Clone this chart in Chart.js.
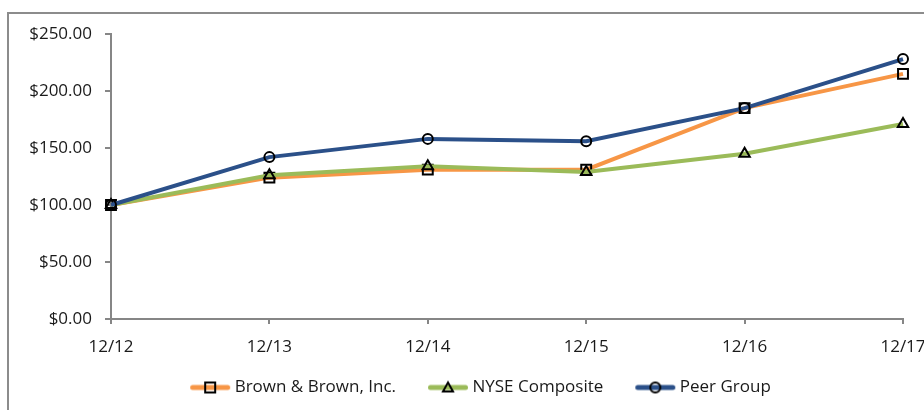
<!DOCTYPE html>
<html>
<head>
<meta charset="utf-8">
<script src="https://cdn.jsdelivr.net/npm/chart.js@4.4.1/dist/chart.umd.min.js"></script>
<style>
  body { margin: 0; background: #fff; }
  #wrap { position: relative; width: 924px; height: 410px; overflow: hidden; }
  #frame { position: absolute; left: 7px; top: 12px; width: 1000px; height: 1000px;
           border: 2px solid #8c8c8c; box-sizing: border-box; }
  #chartBox { position: absolute; left: 0; top: 0; width: 924px; height: 410px; }
</style>
</head>
<body>
<div id="wrap">
  <div id="frame"></div>
  <div id="chartBox"><canvas id="lineChart"></canvas></div>
</div>
<script>
const years = ["12/12", "12/13", "12/14", "12/15", "12/16", "12/17"];
const brownValues = [100, 124, 131, 131, 185, 215];
const nyseValues = [100, 126, 134, 129, 145, 171];
const peerValues = [100, 142, 158, 156, 185, 228];
const seriesNames = ["Brown & Brown, Inc.", "NYSE Composite", "Peer Group"];

const orange = "#f79646";
const green = "#9bbb59";
const blue = "#2b5089";
const axisGray = "#868686";

// line + marker picture for the legend (a bit of empty room on the left
// so the gap between legend items comes out right)
function legendIcon(color, shape) {
  const c = document.createElement("canvas");
  c.width = 58;
  c.height = 16;
  const g = c.getContext("2d");
  g.strokeStyle = color;
  g.lineWidth = 5;
  g.lineCap = "round";
  g.beginPath();
  g.moveTo(19.5, 8);
  g.lineTo(54.5, 8);
  g.stroke();
  g.strokeStyle = "#000";
  g.lineWidth = 2;
  g.beginPath();
  if (shape === "rect") {
    g.rect(32, 3, 10, 10);
  } else if (shape === "triangle") {
    g.moveTo(37, 3);
    g.lineTo(42, 12);
    g.lineTo(32, 12);
    g.closePath();
  } else {
    g.arc(37, 8, 5, 0, Math.PI * 2);
  }
  g.stroke();
  return c;
}

const icons = [
  legendIcon(orange, "rect"),
  legendIcon(green, "triangle"),
  legendIcon(blue, "circle")
];

function drawLineChart() {
  const ctx = document.getElementById("lineChart").getContext("2d");

  const config = {
    type: "line",
    data: {
      labels: years,
      datasets: [
        {
          label: seriesNames[0],
          data: brownValues,
          borderColor: orange,
          borderWidth: 4,
          pointStyle: "rect",
          pointRadius: 7,
          pointBorderWidth: 2,
          pointBorderColor: "#000",
          pointBackgroundColor: "transparent",
          order: 2
        },
        {
          label: seriesNames[1],
          data: nyseValues,
          borderColor: green,
          borderWidth: 4,
          pointStyle: "triangle",
          pointRadius: 6,
          pointBorderWidth: 2,
          pointBorderColor: "#000",
          pointBackgroundColor: "transparent",
          order: 1
        },
        {
          label: seriesNames[2],
          data: peerValues,
          borderColor: blue,
          borderWidth: 4,
          pointStyle: "circle",
          pointRadius: 5,
          pointBorderWidth: 2,
          pointBorderColor: "#000",
          pointBackgroundColor: "transparent",
          order: 0
        }
      ]
    },
    options: {
      responsive: true,
      maintainAspectRatio: false,
      animation: false,
      layout: {
        padding: { left: 28, right: 3, top: 34, bottom: 4 }
      },
      scales: {
        x: {
          offset: false,
          grid: {
            drawOnChartArea: false,
            color: axisGray,
            tickLength: 5,
            lineWidth: 2
          },
          border: { color: axisGray, width: 2 },
          ticks: {
            color: "#1a1a1a",
            padding: 13,
            maxRotation: 0,
            font: { family: "'Open Sans'", size: 17 }
          },
          afterFit: function(scale) {
            scale.height = 40;
            scale.paddingRight = 21; // keeps plot right edge at ~903
            scale.paddingLeft = 0;
          }
        },
        y: {
          min: 0,
          max: 250,
          grid: {
            drawOnChartArea: false,
            color: axisGray,
            tickLength: 6,
            lineWidth: 2
          },
          border: { color: axisGray, width: 2 },
          ticks: {
            stepSize: 50,
            color: "#1a1a1a",
            padding: 13,
            font: { family: "'Open Sans'", size: 17 },
            callback: function(v) {
              return "$" + v.toFixed(2);
            }
          },
          afterFit: function(scale) {
            scale.width = 83;
          }
        }
      },
      plugins: {
        tooltip: { enabled: false },
        legend: {
          position: "bottom",
          labels: {
            usePointStyle: true,
            pointStyleWidth: 48,
            padding: 20,
            color: "#1a1a1a",
            font: { family: "'Open Sans'", size: 17 },
            generateLabels: function(chart) {
              const items = Chart.defaults.plugins.legend.labels.generateLabels(chart);
              items.sort(function(a, b) { return a.datasetIndex - b.datasetIndex; });
              items.forEach(function(it) {
                it.pointStyle = icons[it.datasetIndex];
              });
              return items;
            }
          }
        }
      }
    }
  };

  new Chart(ctx, config);
}

drawLineChart();
</script>
</body>
</html>
